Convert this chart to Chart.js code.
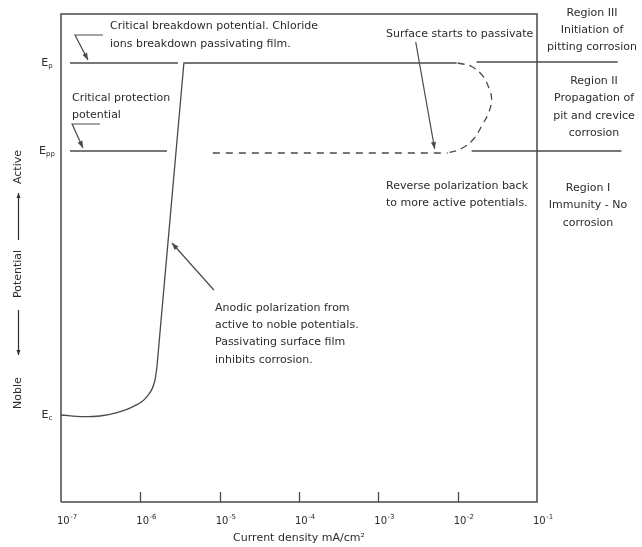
<!DOCTYPE html>
<html>
<head>
<meta charset="utf-8">
<script src="https://cdn.jsdelivr.net/npm/chart.js@4/dist/chart.umd.min.js"></script>
<style>
  html, body { margin: 0; padding: 0; background: #ffffff; }
  canvas { display: block; }
</style>
</head>
<body>
<canvas id="c" width="642" height="547"></canvas>
<script>
// ---- Axis ticks (current density, mA/cm²) ----
const tickValues = [1e-7, 1e-6, 1e-5, 1e-4, 1e-3, 1e-2, 1e-1];
const tickExponents = ['-7', '-6', '-5', '-4', '-3', '-2', '-1'];
const tickLabels = ['10⁻⁷', '10⁻⁶', '10⁻⁵', '10⁻⁴', '10⁻³', '10⁻²', '10⁻¹'];
const xTitle = 'Current density mA/cm²';

// ---- Potential levels (arbitrary potential units, 0 = bottom, 100 = top) ----
const levelSubscripts = ['p', 'pp', 'c'];
const levelValues = [89.96, 71.93, 17.83];

// ---- Anodic polarization curve (forward scan) ----
const anodicCurveX = [1e-7, 1.89e-7, 3.10e-7, 5.07e-7, 8.07e-7, 1.21e-6, 1.53e-6, 1.62e-6];
const anodicCurveY = [17.83, 17.48, 17.62, 18.30, 19.53, 21.58, 25.0, 27.73];
const anodicLineX = [1.62e-6, 3.54e-6, 9.71e-3];
const anodicLineY = [27.73, 89.96, 89.96];

// ---- Reverse polarization (dashed) ----
const reverseArcX = [1.0e-2, 1.50e-2, 2.07e-2, 2.53e-2, 2.68e-2, 2.45e-2, 2.07e-2, 1.59e-2, 1.12e-2, 7.48e-3];
const reverseArcY = [89.96, 89.24, 87.30, 84.43, 82.38, 79.71, 77.46, 74.39, 72.44, 71.52];
const reverseLineX = [8.2e-6, 7.48e-3];
const reverseLineY = [71.52, 71.52];

// ---- Reference level lines ----
const epLineX = [1.30e-7, 2.98e-6];
const epLineY = [89.96, 89.96];
const eppLineX = [1.30e-7, 2.16e-6];
const eppLineY = [71.93, 71.93];
const region3LineX = [1.73e-2, 1.04];
const region3LineY = [90.16, 90.16];
const region2LineX = [1.50e-2, 1.16];
const region2LineY = [71.93, 71.93];

// ---- Annotation arrows (data coordinates, last point gets the head) ----
const arrowBreakdown = [[3.38e-7, 95.70], [1.50e-7, 95.70], [2.19e-7, 90.57]];
const arrowProtection = [[3.10e-7, 77.46], [1.38e-7, 77.46], [1.89e-7, 72.54]];
const arrowPassivate = [[2.96e-3, 94.26], [5.13e-3, 72.34]];
const arrowAnodic = [[8.45e-6, 43.44], [2.50e-6, 53.07]];

// ---- Annotation texts ----
const textBreakdown = ['Critical breakdown potential. Chloride', 'ions breakdown passivating film.'];
const textProtection = ['Critical protection', 'potential'];
const textPassivate = ['Surface starts to passivate'];
const textReverse = ['Reverse polarization back', 'to more active potentials.'];
const textAnodic = ['Anodic polarization from', 'active to noble potentials.', 'Passivating surface film', 'inhibits corrosion.'];
const textRegion3 = ['Region III', 'Initiation of', 'pitting corrosion'];
const textRegion2 = ['Region II', 'Propagation of', 'pit and crevice', 'corrosion'];
const textRegion1 = ['Region I', 'Immunity - No', 'corrosion'];
const yAxisWords = ['Noble', 'Potential', 'Active'];

const pts = (xs, ys) => xs.map((x, i) => ({ x: x, y: ys[i] }));

const LINE = '#4a4a4a';
const TEXT = '#2c2c2c';
const FONT = "'DejaVu Sans', Verdana, sans-serif";

function baseDs(xs, ys, extra) {
  return Object.assign({
    data: pts(xs, ys),
    showLine: true,
    borderColor: LINE,
    borderWidth: 1.3,
    pointRadius: 0,
    tension: 0,
    fill: false
  }, extra || {});
}

const annotate = {
  id: 'annotate',
  beforeDraw(chart) {
    const ctx = chart.ctx;
    ctx.save();
    ctx.fillStyle = '#ffffff';
    ctx.fillRect(0, 0, chart.width, chart.height);
    ctx.restore();
  },
  afterDraw(chart) {
    const ctx = chart.ctx;
    const xs = chart.scales.x, ys = chart.scales.y;
    const a = chart.chartArea;
    const px = v => xs.getPixelForValue(v);
    const py = v => ys.getPixelForValue(v);
    ctx.save();

    // frame
    ctx.strokeStyle = LINE;
    ctx.lineWidth = 1.5;
    ctx.beginPath();
    ctx.moveTo(a.left, a.bottom);
    ctx.lineTo(a.left, a.top);
    ctx.lineTo(a.right, a.top);
    ctx.lineTo(a.right, a.bottom);
    ctx.lineTo(a.left, a.bottom);
    ctx.stroke();

    // inner ticks
    ctx.lineWidth = 1.3;
    tickValues.forEach((v, i) => {
      if (i === 0 || i === tickValues.length - 1) return;
      const x = Math.round(px(v)) + 0.5;
      ctx.beginPath();
      ctx.moveTo(x, a.bottom);
      ctx.lineTo(x, a.bottom - 10);
      ctx.stroke();
    });

    // tick labels
    ctx.fillStyle = TEXT;
    ctx.textBaseline = 'alphabetic';
    ctx.textAlign = 'left';
    tickValues.forEach((v, i) => {
      const x = px(v) - 4;
      ctx.font = '10px ' + FONT;
      ctx.fillText('10', x, a.bottom + 22);
      const w = ctx.measureText('10').width;
      ctx.font = '7px ' + FONT;
      ctx.fillText(tickExponents[i].replace('-', '\u2011'), x + w + 0.5, a.bottom + 17);
    });

    // x title
    ctx.font = '11px ' + FONT;
    ctx.textAlign = 'center';
    ctx.textBaseline = 'middle';
    ctx.fillText(xTitle, (a.left + a.right) / 2, 538);

    // level labels E_p, E_pp, E_c
    levelValues.forEach((v, i) => {
      const y = py(v);
      ctx.font = '11px ' + FONT;
      const wE = ctx.measureText('E').width;
      ctx.font = '7px ' + FONT;
      const wS = ctx.measureText(levelSubscripts[i]).width;
      const x0 = 47 - (wE + wS) / 2;
      ctx.font = '11px ' + FONT;
      ctx.textAlign = 'left';
      ctx.textBaseline = 'middle';
      ctx.fillText('E', x0, y);
      ctx.font = '7px ' + FONT;
      ctx.fillText(levelSubscripts[i], x0 + wE, y + 3);
    });

    // vertical axis words
    ctx.save();
    ctx.translate(18, 0);
    ctx.rotate(-Math.PI / 2);
    ctx.font = '11px ' + FONT;
    ctx.textAlign = 'center';
    ctx.textBaseline = 'middle';
    ctx.fillText(yAxisWords[0], -393, 0);
    ctx.fillText(yAxisWords[1], -274, 0);
    ctx.fillText(yAxisWords[2], -167, 0);
    ctx.restore();
    drawArrowPx(ctx, [[18.5, 240], [18.5, 193]], TEXT, 5, 2);
    drawArrowPx(ctx, [[18.5, 310], [18.5, 355]], TEXT, 5, 2);

    // annotation texts
    function block(lines, x, y0, align, lh) {
      ctx.font = '11px ' + FONT;
      ctx.fillStyle = TEXT;
      ctx.textAlign = align;
      ctx.textBaseline = 'middle';
      lines.forEach((t, i) => ctx.fillText(t, x, y0 + i * lh));
    }
    block(textBreakdown, 110, 26, 'left', 18);
    block(textProtection, 72, 98, 'left', 17);
    block(textPassivate, 386, 34, 'left', 17);
    block(textReverse, 386, 186, 'left', 17);
    block(textAnodic, 215, 308, 'left', 17.3);
    block(textRegion3, 592, 13, 'center', 17);
    block(textRegion2, 594, 81, 'center', 17.5);
    block(textRegion1, 588, 188, 'center', 17.5);

    // arrows in data coordinates
    [arrowBreakdown, arrowProtection, arrowPassivate, arrowAnodic].forEach(arr => {
      drawArrowPx(ctx, arr.map(p => [px(p[0]), py(p[1])]), LINE, 7, 2.6);
    });

    ctx.restore();
  }
};

function drawArrowPx(ctx, P, color, len, half) {
  ctx.save();
  ctx.strokeStyle = color;
  ctx.fillStyle = color;
  ctx.lineWidth = 1.2;
  ctx.beginPath();
  ctx.moveTo(P[0][0], P[0][1]);
  for (let i = 1; i < P.length; i++) ctx.lineTo(P[i][0], P[i][1]);
  ctx.stroke();
  const [x1, y1] = P[P.length - 2];
  const [x2, y2] = P[P.length - 1];
  const ang = Math.atan2(y2 - y1, x2 - x1);
  ctx.beginPath();
  ctx.moveTo(x2, y2);
  ctx.lineTo(x2 - len * Math.cos(ang) + half * Math.sin(ang), y2 - len * Math.sin(ang) - half * Math.cos(ang));
  ctx.lineTo(x2 - len * Math.cos(ang) - half * Math.sin(ang), y2 - len * Math.sin(ang) + half * Math.cos(ang));
  ctx.closePath();
  ctx.fill();
  ctx.restore();
}

new Chart(document.getElementById('c'), {
  type: 'scatter',
  data: {
    datasets: [
      baseDs(anodicCurveX, anodicCurveY, { cubicInterpolationMode: 'monotone', label: 'Anodic curve' }),
      baseDs(anodicLineX, anodicLineY, { label: 'Anodic polarization' }),
      baseDs(reverseArcX, reverseArcY, { tension: 0.4, borderDash: [7, 5], label: 'Reverse arc' }),
      baseDs(reverseLineX, reverseLineY, { borderDash: [7, 6], label: 'Reverse polarization' }),
      baseDs(epLineX, epLineY, { label: 'Ep' }),
      baseDs(eppLineX, eppLineY, { label: 'Epp' }),
      baseDs(region3LineX, region3LineY, { clip: false, label: 'Region III/II' }),
      baseDs(region2LineX, region2LineY, { clip: false, label: 'Region II/I' })
    ]
  },
  options: {
    responsive: false,
    animation: false,
    devicePixelRatio: 1,
    layout: { padding: { left: 61, right: 105, top: 14, bottom: 45 } },
    scales: {
      x: { type: 'logarithmic', min: 1e-7, max: 1e-1, display: false },
      y: { type: 'linear', min: 0, max: 100, display: false }
    },
    plugins: { legend: { display: false }, tooltip: { enabled: false } }
  },
  plugins: [annotate]
});
</script>
</body>
</html>
